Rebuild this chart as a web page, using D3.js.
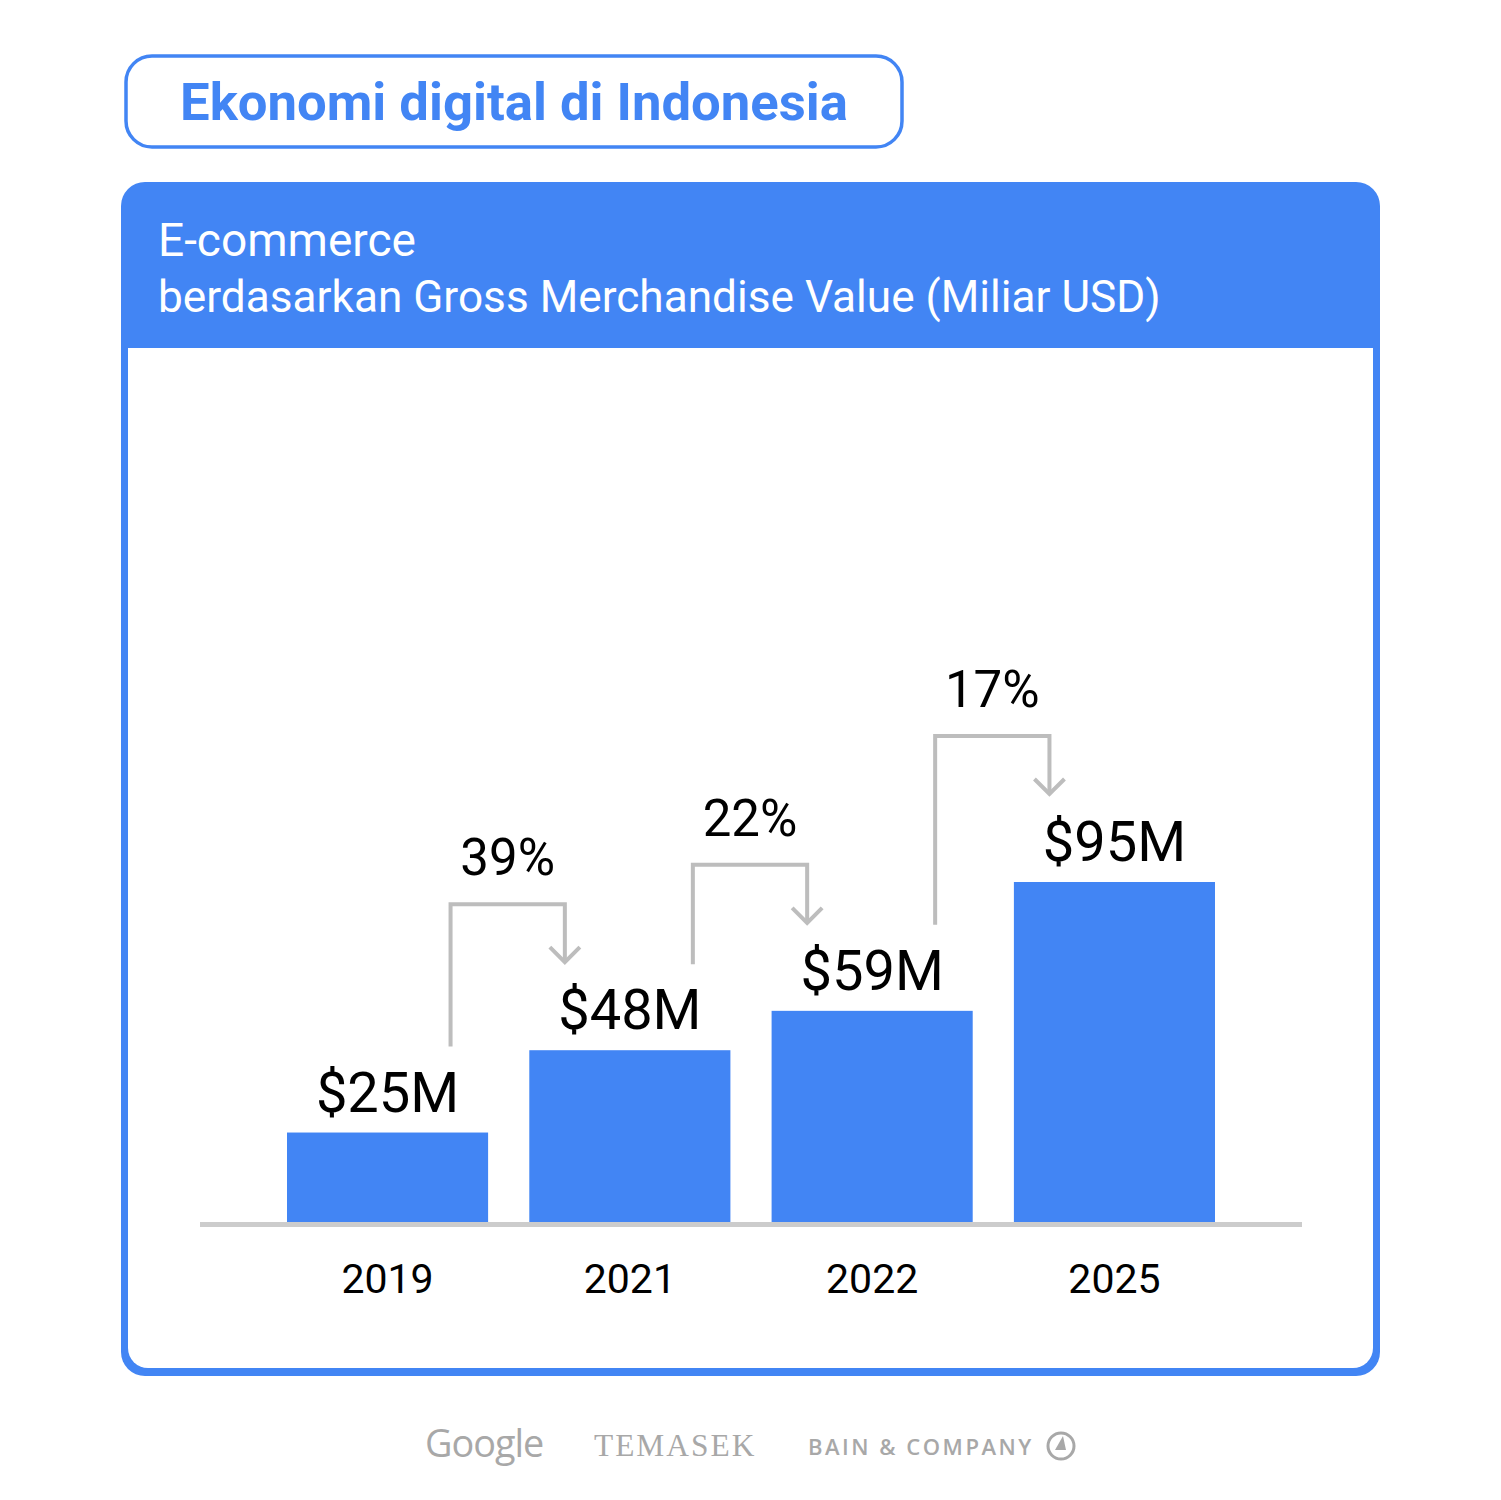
<!DOCTYPE html>
<html><head><meta charset="utf-8">
<script src="https://cdn.jsdelivr.net/npm/d3@7"></script>
<style>body{margin:0;background:#fff}svg{display:block}</style>
</head><body>
<script>
const years = ["2019", "2021", "2022", "2025"];
const values = [25, 48, 59, 95];
const valueLabels = ["$25M", "$48M", "$59M", "$95M"];
const growthLabels = ["39%", "22%", "17%"];
const title = "Ekonomi digital di Indonesia";
const subtitle1 = "E-commerce";
const subtitle2 = "berdasarkan Gross Merchandise Value (Miliar USD)";
const sources = ["Google", "TEMASEK", "BAIN & COMPANY"];

const W = 1501, H = 1500, BLUE = "#4285F4", GREY = "#bdbdbd";
const FONT = "Roboto, 'Open Sans', sans-serif";
const svg = d3.select("body").append("svg").attr("width", W).attr("height", H);

function fit(t, w) { // scale font-size so text spans width w
  const n = t.node(); const cur = n.getComputedTextLength();
  const fs = parseFloat(t.attr("font-size"));
  t.attr("font-size", fs * w / cur);
}

// Title box
svg.append("rect").attr("x", 126).attr("y", 56).attr("width", 776).attr("height", 91)
  .attr("rx", 26).attr("fill", "none").attr("stroke", BLUE).attr("stroke-width", 3.5);
const tt = svg.append("text").attr("x", 514).attr("y", 120).attr("text-anchor", "middle")
  .attr("font-family", FONT).attr("font-weight", 700).attr("font-size", 48)
  .attr("fill", BLUE).text(title);
fit(tt, 668);

// Panel
svg.append("rect").attr("x", 121).attr("y", 182).attr("width", 1259).attr("height", 1194)
  .attr("rx", 24).attr("fill", BLUE);
svg.append("rect").attr("x", 128).attr("y", 348).attr("width", 1245).attr("height", 1020)
  .attr("rx", 20).attr("fill", "#fff");
svg.append("rect").attr("x", 128).attr("y", 348).attr("width", 1245).attr("height", 30).attr("fill", "#fff");
const s1 = svg.append("text").attr("x", 158).attr("y", 256).attr("font-family", FONT)
  .attr("font-size", 44).attr("fill", "#fff").text(subtitle1);
fit(s1, 258);
const s2 = svg.append("text").attr("x", 158).attr("y", 312).attr("font-family", FONT)
  .attr("font-size", 44).attr("fill", "#fff").text(subtitle2);
fit(s2, 1003);

// Scales
const baseY = 1222;
const x = d3.scaleBand().domain(years).range([287, 1215]).paddingInner(0.17).paddingOuter(0);
const y = d3.scaleLinear().domain([0, 95]).range([baseY, baseY - 340]);
const cx = d => x(d) + x.bandwidth() / 2;

const g = svg.append("g");
g.selectAll("rect.bar").data(years).join("rect").attr("class", "bar")
  .attr("x", d => x(d)).attr("width", x.bandwidth())
  .attr("y", (d, i) => y(values[i])).attr("height", (d, i) => baseY - y(values[i]))
  .attr("fill", BLUE);

// axis line
svg.append("line").attr("x1", 200).attr("x2", 1302).attr("y1", baseY + 2.5).attr("y2", baseY + 2.5)
  .attr("stroke", "#cccccc").attr("stroke-width", 5);

// year labels via axis
const ax = svg.append("g").attr("transform", `translate(0,${baseY})`)
  .call(d3.axisBottom(x).tickSize(0).tickPadding(0));
ax.select(".domain").remove();
ax.selectAll("text").attr("font-family", FONT).attr("font-size", 41).attr("fill", "#000")
  .attr("dy", null).attr("y", 71);

// value labels
g.selectAll("text.val").data(years).join("text").attr("class", "val")
  .attr("x", cx).attr("y", (d, i) => y(values[i]) - 21)
  .attr("text-anchor", "middle").attr("font-family", FONT).attr("font-size", 56)
  .attr("fill", "#000").text((d, i) => valueLabels[i]);

// growth arrows
growthLabels.forEach((lab, i) => {
  const x1 = cx(years[i]) + 63, x2 = cx(years[i + 1]) - 65;
  const sy = y(values[i]) - 86, ey = y(values[i + 1]) - 88;
  const hy = ey - 58;
  svg.append("path").attr("d", `M${x1},${sy}V${hy}H${x2}V${ey}`)
    .attr("fill", "none").attr("stroke", GREY).attr("stroke-width", 4);
  svg.append("path").attr("d", `M${x2 - 15},${ey - 15}L${x2},${ey}L${x2 + 15},${ey - 15}`)
    .attr("fill", "none").attr("stroke", GREY).attr("stroke-width", 4);
  svg.append("text").attr("x", (x1 + x2) / 2).attr("y", hy - 29).attr("text-anchor", "middle")
    .attr("font-family", FONT).attr("font-size", 51).attr("fill", "#000").text(lab);
});

// footer logos
const FG = "#a8a8a8";
const l1 = svg.append("text").attr("x", 425).attr("y", 1457).attr("font-family", "'Open Sans', sans-serif")
  .attr("font-size", 36).attr("fill", FG).attr("letter-spacing", -1).text(sources[0]);
fit(l1, 118);
const l2 = svg.append("text").attr("x", 594).attr("y", 1456).attr("font-family", "'Liberation Serif', serif")
  .attr("font-size", 30).attr("fill", FG).attr("letter-spacing", 2).text(sources[1]);
fit(l2, 163);
const l3 = svg.append("text").attr("x", 808).attr("y", 1455).attr("font-family", "'Open Sans', sans-serif")
  .attr("font-size", 22).attr("font-weight", 600).attr("fill", FG).attr("letter-spacing", 2.5).text(sources[2]);
fit(l3, 226);
svg.append("circle").attr("cx", 1061).attr("cy", 1446).attr("r", 13).attr("fill", "none")
  .attr("stroke", FG).attr("stroke-width", 3);
svg.append("path").attr("d", "M1063,1436L1055,1450L1066,1450Z").attr("fill", FG);
</script>
</body></html>
